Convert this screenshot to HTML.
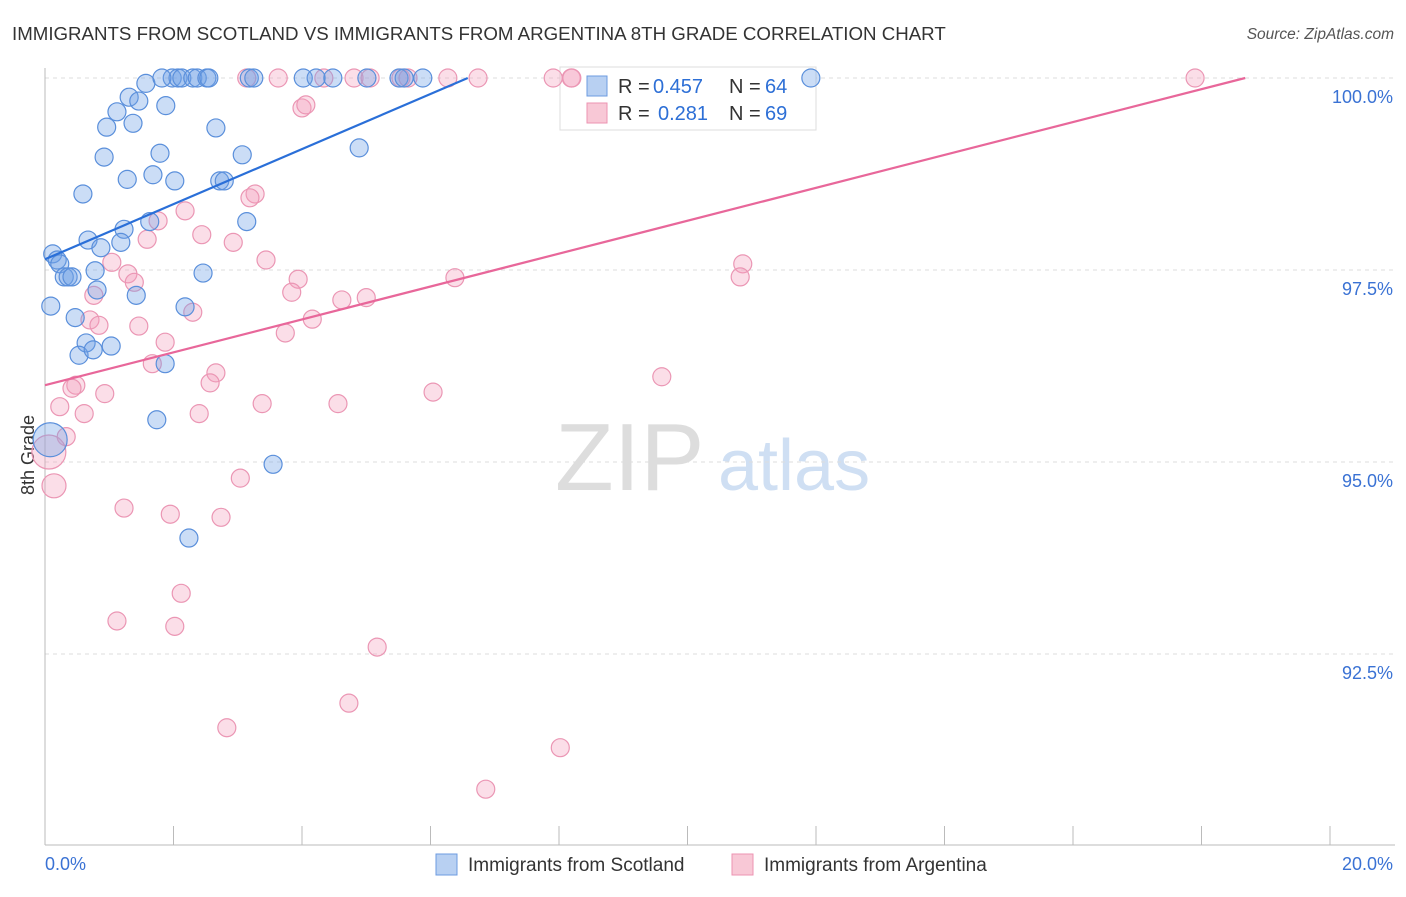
<!DOCTYPE html>
<html><head><meta charset="utf-8"><style>
body{margin:0;background:#fff;font-family:"Liberation Sans",sans-serif;}
svg text{font-family:"Liberation Sans",sans-serif;}
</style></head><body>
<svg id="chart" width="1406" height="892" xmlns="http://www.w3.org/2000/svg">
<text x="12" y="40" font-size="18.7" fill="#333">IMMIGRANTS FROM SCOTLAND VS IMMIGRANTS FROM ARGENTINA 8TH GRADE CORRELATION CHART</text>
<text x="1394" y="39" font-size="15.5" fill="#555" text-anchor="end" font-style="italic">Source: ZipAtlas.com</text>
<text x="34" y="455" font-size="18" fill="#333" text-anchor="middle" transform="rotate(-90 34 455)">8th Grade</text>
<text x="555" y="490" font-size="96" fill="#ddd" font-family="Liberation Serif">ZIP</text>
<text x="718" y="490" font-size="72" fill="#cfdff3">atlas</text>
<g id="grid"></g><g id="axes"></g>
<g>
<rect x="560" y="67" width="256" height="63" fill="#fff" stroke="#ddd"/>
<rect x="587" y="76" width="20" height="20" fill="#b8d0f2" stroke="#6d9be0"/>
<text x="618" y="93" font-size="20" fill="#333">R =</text>
<text x="653" y="93" font-size="20" fill="#2d6fd6">0.457</text>
<text x="729" y="93" font-size="20" fill="#333">N =</text>
<text x="765" y="93" font-size="20" fill="#2d6fd6">64</text>
<rect x="587" y="103" width="20" height="20" fill="#f8c8d6" stroke="#ec93b2"/>
<text x="618" y="120" font-size="20" fill="#333">R =</text>
<text x="658" y="120" font-size="20" fill="#2d6fd6">0.281</text>
<text x="729" y="120" font-size="20" fill="#333">N =</text>
<text x="765" y="120" font-size="20" fill="#2d6fd6">69</text>
</g>
<g id="pts"></g><g id="lines"></g>
<g>
<rect x="436" y="854" width="21" height="21" fill="#b8d0f2" stroke="#6d9be0"/>
<text x="468" y="871" font-size="19" fill="#333">Immigrants from Scotland</text>
<rect x="732" y="854" width="21" height="21" fill="#f8c8d6" stroke="#ec93b2"/>
<text x="764" y="871" font-size="19" fill="#333">Immigrants from Argentina</text>
</g>
</svg>
<script>
const xTicksLabels=["0.0%","20.0%"];
const yTicks=[100,97.5,95,92.5];
const yTickLabels=["100.0%","97.5%","95.0%","92.5%"];
const blueX=[1.57,1.98,2.07,2.13,2.30,2.37,2.52,2.55,3.18,3.25,4.02,4.22,4.48,5.01,5.51,5.59,5.88,11.92,1.82,1.31,1.46,1.88,1.12,0.96,1.37,2.66,0.92,1.79,3.07,4.89,1.28,1.68,2.02,2.72,2.79,0.59,1.23,1.63,3.14,0.67,1.18,0.87,0.12,0.19,0.23,0.30,0.36,0.42,0.78,2.46,0.81,1.42,0.09,2.18,0.47,0.64,1.03,0.53,0.75,1.87,1.74,0.08,3.55,2.24];
const blueY=[99.93,100,100,100,100,100,100,100,100,100,100,100,100,100,100,100,100,100,100,99.75,99.70,99.64,99.56,99.36,99.41,99.35,98.97,99.02,99.00,99.09,98.68,98.74,98.66,98.66,98.66,98.49,98.03,98.13,98.13,97.89,97.86,97.79,97.71,97.63,97.58,97.41,97.41,97.41,97.49,97.46,97.24,97.17,97.03,97.02,96.88,96.55,96.51,96.39,96.46,96.28,95.55,95.29,94.97,94.01];
const pinkX=[3.14,3.63,4.34,4.81,5.06,5.54,5.65,6.27,6.74,7.91,8.19,17.90,8.20,4.00,4.06,3.27,3.19,2.18,1.76,1.59,2.44,2.93,1.04,1.29,1.39,3.44,3.94,0.76,2.30,0.70,0.84,1.46,3.84,4.16,3.74,4.62,5.00,6.38,10.86,10.82,1.87,1.67,2.66,2.57,0.48,0.42,0.93,0.23,0.61,2.40,3.38,4.56,6.04,9.60,0.33,0.06,0.14,3.04,1.23,1.95,2.74,2.12,1.12,2.02,5.17,4.73,2.83,8.02,6.86];
const pinkY=[100,100,100,100,100,100,100,100,100,100,100,100,100,99.61,99.65,98.49,98.44,98.27,98.14,97.90,97.96,97.86,97.60,97.45,97.34,97.63,97.38,97.17,96.95,96.85,96.78,96.77,97.21,96.86,96.68,97.11,97.14,97.40,97.58,97.41,96.56,96.28,96.16,96.03,96.00,95.96,95.89,95.72,95.63,95.63,95.76,95.76,95.91,96.11,95.33,95.13,94.69,94.79,94.40,94.32,94.28,93.29,92.93,92.86,92.59,91.86,91.54,91.28,90.74];
const blueTrend=[[0,97.64],[6.58,100]];
const pinkTrend=[[0,96.0],[18.68,100]];
const NS="http://www.w3.org/2000/svg";
const X=v=>45+v*64.25, Y=v=>78+(100-v)*76.8;
function mk(t,a,p){const e=document.createElementNS(NS,t);for(const k in a)e.setAttribute(k,a[k]);p.appendChild(e);return e;}
const grid=document.getElementById('grid'),axes=document.getElementById('axes'),pts=document.getElementById('pts'),lines=document.getElementById('lines');
yTicks.forEach((t,i)=>{
 const l=mk('line',{x1:45,x2:1395,y1:Y(t),y2:Y(t),stroke:'#ddd','stroke-dasharray':'4,4'},grid);
 
 
 const tx=mk('text',{x:1393,y:Y(t)+25,'font-size':18,fill:'#3a72d4','text-anchor':'end'},axes);
 tx.textContent=yTickLabels[i];
 
 
});
const ax=mk('line',{x1:45,x2:45,y1:68,y2:845,stroke:'#bbb'},axes);


const bx=mk('line',{x1:45,x2:1395,y1:845,y2:845,stroke:'#bbb'},axes);


for(let i=0;i<=20;i+=2){const t=mk('line',{x1:X(i),x2:X(i),y1:826,y2:845,stroke:'#bbb'},axes);
 
 }
[[0,'start'],[20,'end']].forEach((d,i)=>{const t=mk('text',{x:X(d[0])+(i?63:0),y:870,'font-size':18,fill:'#3a72d4','text-anchor':d[1]},axes);t.textContent=xTicksLabels[i];
 
 });
function dots(xs,ys,fill,stroke,name){xs.forEach((x,i)=>{let r=9;if(x<0.1&&ys[i]<95.5)r=17;else if(x<0.2&&ys[i]<95)r=12;
 const c=mk('circle',{cx:X(x),cy:Y(ys[i]),r:r,fill:fill,stroke:stroke,'stroke-width':1.2},pts);
 
 });}
dots(pinkX,pinkY,'rgba(244,160,190,0.35)','#eb96b4','point-argentina');
dots(blueX,blueY,'rgba(110,160,230,0.36)','#5a8fdb','point-scotland');
const bl=mk('line',{x1:X(blueTrend[0][0]),y1:Y(blueTrend[0][1]),x2:X(blueTrend[1][0]),y2:Y(blueTrend[1][1]),stroke:'#2a6fd8','stroke-width':2.2},lines);


const pl=mk('line',{x1:X(pinkTrend[0][0]),y1:Y(pinkTrend[0][1]),x2:X(pinkTrend[1][0]),y2:Y(pinkTrend[1][1]),stroke:'#e8679a','stroke-width':2.2},lines);


</script>
</body></html>
